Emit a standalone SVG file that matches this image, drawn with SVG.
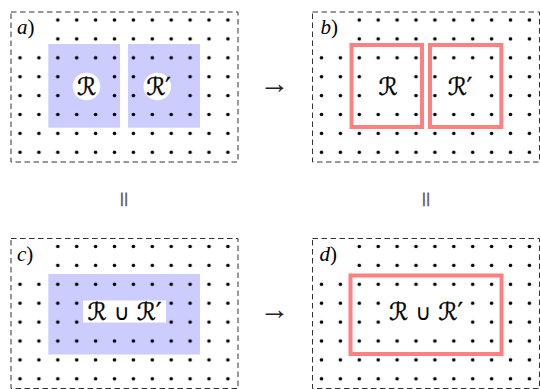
<svg xmlns="http://www.w3.org/2000/svg" width="540" height="389" viewBox="0 0 540 389">
<style>
.frame{fill:none;stroke:#333;stroke-width:1;stroke-dasharray:5.5 3.5}
.blue{fill:#ccccff}
.red{fill:none;stroke:#ff8080;stroke-width:4}
.dots{fill:url(#dots);fill-rule:evenodd}
.lab{font-family:"Liberation Serif",serif;font-size:21px;fill:#000}
.math{font-family:"DejaVu Sans",sans-serif;font-size:24px;fill:#000;text-anchor:middle;stroke:#000;stroke-width:0.4}
.cup{font-size:22px;stroke-width:0}
.sym{font-family:"Liberation Serif",serif;fill:#222;text-anchor:middle}
.eq{font-family:"DejaVu Sans",sans-serif;fill:#666;text-anchor:middle;font-size:22px}
</style>
<defs>
<pattern id="dots" patternUnits="userSpaceOnUse" x="10.55" y="10.55" width="18.9" height="18.9">
<circle cx="9.45" cy="9.45" r="1.8" fill="#000"/>
</pattern>
</defs>
<g id="panel-a">
<rect class="frame" x="11" y="12" width="227" height="150"/>
<rect class="blue" x="48.3" y="44" width="71.7" height="83.7"/>
<rect class="blue" x="128" y="44" width="72" height="83.7"/>
<path class="dots" d="M48.35 10.55H237.35V48.35H48.35Z M10.55 48.35H237.35V161.75H10.55Z M67.25 67.25H105.05V105.05H67.25Z M142.85 67.25H180.65V105.05H142.85Z"/>
<circle cx="86.5" cy="86.5" r="13.8" fill="#fff"/>
<circle cx="157.3" cy="86.5" r="13.8" fill="#fff"/>
<text class="lab" x="17" y="34"><tspan font-style="italic">a</tspan>)</text>
<text class="math" x="86.5" y="95">ℛ</text>
<text class="math" x="158.5" y="95">ℛ′</text>
</g>
<g id="panel-b" transform="translate(301.5,0)">
<rect class="frame" x="11" y="12" width="227" height="150"/>
<path class="dots" d="M48.35 10.55H237.35V48.35H48.35Z M10.55 48.35H237.35V161.75H10.55Z M67.25 67.25H105.05V105.05H67.25Z M142.85 67.25H180.65V105.05H142.85Z"/>
<rect class="red" x="50" y="45" width="70.5" height="82"/>
<rect class="red" x="128.5" y="45" width="71.3" height="82"/>
<text class="lab" x="19" y="34"><tspan font-style="italic">b</tspan>)</text>
<text class="math" x="86.5" y="95">ℛ</text>
<text class="math" x="158.5" y="95">ℛ′</text>
</g>
<g id="panel-c" transform="translate(0,226.5)">
<rect class="frame" x="11" y="12" width="227" height="150"/>
<rect class="blue" x="48.3" y="47.5" width="151.7" height="80.5"/>
<rect x="83" y="74" width="83" height="22" fill="#fff"/>
<path class="dots" d="M48.35 10.55H237.35V48.35H48.35Z M10.55 48.35H237.35V161.75H10.55Z M86.15 67.25H161.75V105.05H86.15Z"/>
<text class="lab" x="17" y="34"><tspan font-style="italic">c</tspan>)</text>
<text class="math" x="124.5" y="93">ℛ<tspan class="cup"> ∪ </tspan>ℛ′</text>
</g>
<g id="panel-d" transform="translate(301.5,226.5)">
<rect class="frame" x="11" y="12" width="227" height="150"/>
<path class="dots" d="M48.35 10.55H237.35V48.35H48.35Z M10.55 48.35H237.35V161.75H10.55Z M86.15 67.25H161.75V105.05H86.15Z"/>
<rect class="red" x="49" y="49" width="151" height="78.5"/>
<text class="lab" x="18" y="34"><tspan font-style="italic">d</tspan>)</text>
<text class="math" x="124.5" y="93">ℛ<tspan class="cup"> ∪ </tspan>ℛ′</text>
</g>
<g id="connectors">
<text class="sym" x="274.5" y="92.5" font-size="30">→</text>
<text class="sym" x="274.5" y="319" font-size="30">→</text>
<text class="eq" transform="translate(123,199.5) rotate(90)" x="0" y="6.5">=</text>
<text class="eq" transform="translate(425,199.5) rotate(90)" x="0" y="6.5">=</text>
</g>
</svg>
